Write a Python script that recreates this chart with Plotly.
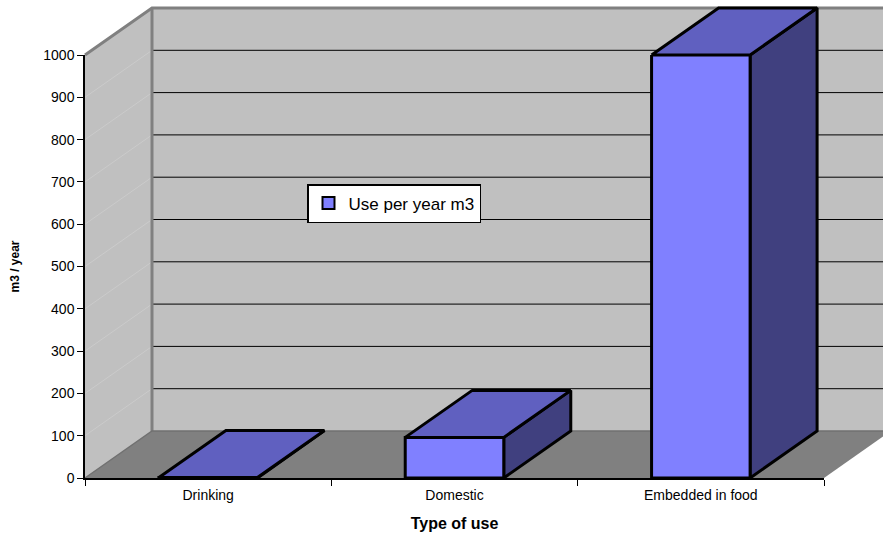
import plotly.graph_objects as go

# ---- data ----
categories = ["Drinking", "Domestic", "Embedded in food"]
values = [1, 96, 1000]
series_name = "Use per year m3"
y_ticks = [0, 100, 200, 300, 400, 500, 600, 700, 800, 900, 1000]
x_title = "Type of use"
y_title = "m3 / year"

# ---- geometry (figure pixels) ----
W, H = 883, 538
front_left_px, front_right_px = 85, 824
front_bottom_px, front_top_px = 478, 55
depth_dx_px, depth_dy_px = 67, 47
ymax = 1000
n = len(categories)

px_per_cat = (front_right_px - front_left_px) / n
px_per_val = (front_bottom_px - front_top_px) / ymax
DX = depth_dx_px / px_per_cat          # depth offset in category units
DY = depth_dy_px / px_per_val          # depth offset in value units
BW = 0.2                               # half bar width (category units)

# full-canvas axis ranges (category index units / value units)
x0 = -0.5 - front_left_px / px_per_cat
x1 = x0 + W / px_per_cat
y0 = -(H - front_bottom_px) / px_per_val
y1 = y0 + H / px_per_val

FRONT = "#8080FF"
TOP = "#6060C0"
SIDE = "#40407F"
WALL = "#C0C0C0"
FLOOR = "#808080"
EDGE = "#808080"

fig = go.Figure()


def poly(xs, ys, fill, line_color, line_width):
    fig.add_trace(go.Scatter(
        x=list(xs) + [xs[0]], y=list(ys) + [ys[0]],
        mode="lines", fill="toself", fillcolor=fill,
        line=dict(color=line_color, width=line_width),
        hoverinfo="skip", showlegend=False, xaxis="x", yaxis="y"))


def seg(xs, ys, color, width):
    fig.add_trace(go.Scatter(
        x=xs, y=ys, mode="lines", line=dict(color=color, width=width),
        hoverinfo="skip", showlegend=False, xaxis="x", yaxis="y"))


L, R = -0.5, n - 0.5
# back wall
poly([L + DX, R + DX + 1, R + DX + 1, L + DX],
     [DY, DY, ymax + DY, ymax + DY], WALL, WALL, 0)
# left wall
poly([L, L, L + DX, L + DX], [0, ymax, ymax + DY, DY], WALL, WALL, 0)
# faint left wall grid
for t in y_ticks[1:-1]:
    seg([L, L + DX], [t, t + DY], "#CBCBCB", 1)
# floor
poly([L, R, R + DX, L + DX], [0, 0, DY, DY], FLOOR, FLOOR, 0)
# back wall gridlines
for t in y_ticks[1:-1]:
    seg([L + DX, R + DX + 1], [t + DY, t + DY], "#000000", 1)
# wall edges
seg([L + DX, L + DX], [DY, ymax + DY], EDGE, 3)
seg([L, L + DX, R + DX + 1], [ymax, ymax + DY, ymax + DY], EDGE, 3)
seg([L, L + DX, R + DX + 1], [0, DY, DY], "#707070", 1.5)

# bars: top and side faces (front faces are the real bar trace)
for i, v in enumerate(values):
    c = i
    poly([c + BW, c + BW + DX, c + BW + DX, c + BW],
         [0, DY, v + DY, v], SIDE, "#000000", 3)
    poly([c - BW, c + BW, c + BW + DX, c - BW + DX],
         [v, v, v + DY, v + DY], TOP, "#000000", 3)

# front faces as bar trace on the front-plane axes
fig.add_trace(go.Bar(
    x=categories, y=values, name=series_name, width=2 * BW,
    marker=dict(color=FRONT, line=dict(color="#000000", width=3)),
    cliponaxis=False, xaxis="x2", yaxis="y2", showlegend=True))

font_family = "Arial, 'Liberation Sans', sans-serif"

fig.update_layout(
    width=W, height=H,
    margin=dict(l=0, r=0, t=0, b=0),
    paper_bgcolor="#FFFFFF",
    plot_bgcolor="rgba(0,0,0,0)",
    font=dict(family=font_family, color="#000000"),
    xaxis=dict(domain=[0, 1], range=[x0, x1], visible=False, fixedrange=True),
    yaxis=dict(domain=[0, 1], range=[y0, y1], visible=False, fixedrange=True),
    xaxis2=dict(
        domain=[front_left_px / W, front_right_px / W], anchor="y2",
        type="category", range=[-0.5, n - 0.5],
        tickson="boundaries", ticks="outside", ticklen=6, tickcolor="#000000",
        ticklabelstandoff=3,
        showline=True, linecolor="#000000", linewidth=1.5,
        showgrid=False, zeroline=False,
        tickfont=dict(size=14, color="#000000"),
        title=dict(text="<b>" + x_title + "</b>", font=dict(size=16), standoff=16),
        automargin=False),
    yaxis2=dict(
        domain=[(H - front_bottom_px) / H, (H - front_top_px) / H], anchor="x2",
        range=[0, ymax], tickvals=y_ticks,
        ticks="outside", ticklen=6, tickcolor="#000000",
        showline=True, linecolor="#000000", linewidth=1.5,
        showgrid=False, zeroline=False,
        tickfont=dict(size=14, color="#000000"),
        title=dict(text="<b>" + y_title + "</b>", font=dict(size=12), standoff=21),
        automargin=False),
    legend=dict(
        x=307 / W, y=1 - 184 / H, xanchor="left", yanchor="top",
        bgcolor="#FFFFFF", bordercolor="#000000", borderwidth=1.5,
        font=dict(size=17), itemsizing="constant", itemwidth=30,
        tracegroupgap=0),
    showlegend=True,
)

fig.write_html("out.html", config={"displayModeBar": False},
               post_script="document.body.style.margin='0';document.body.style.overflow='hidden';")
